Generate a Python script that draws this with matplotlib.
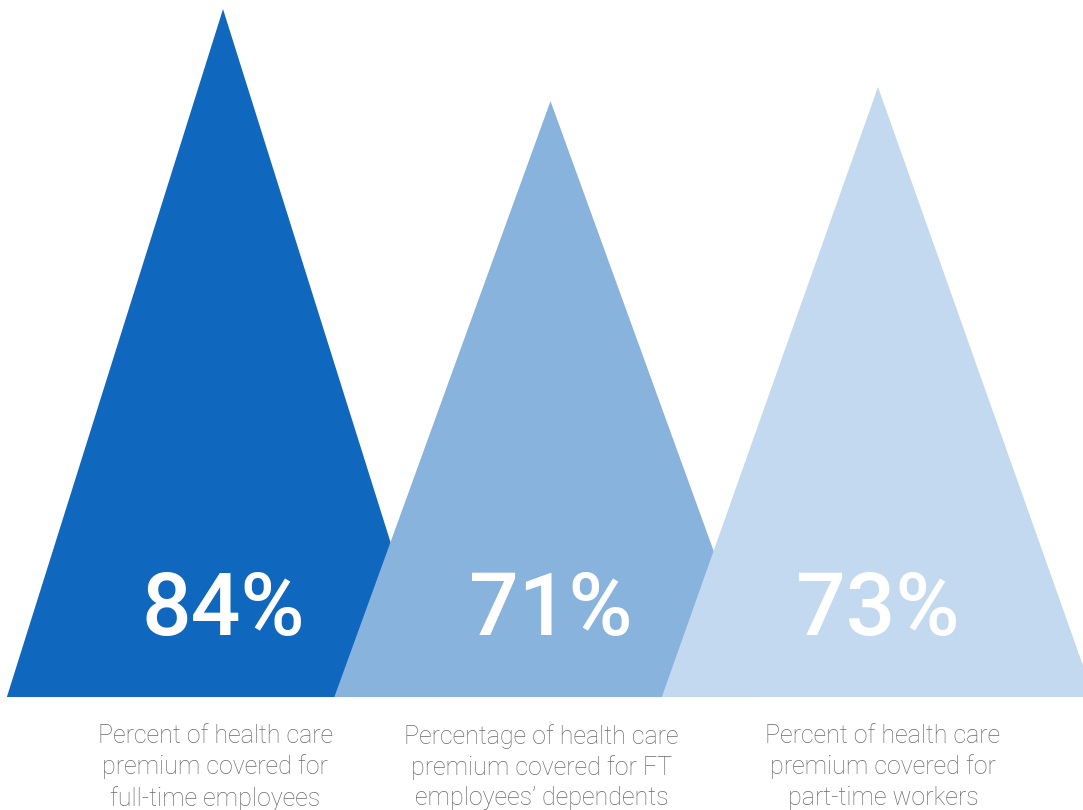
import matplotlib
matplotlib.use("Agg")
import matplotlib.pyplot as plt
from matplotlib.patches import Polygon

# Data
categories = [
    "Percent of health care\npremium covered for\nfull-time employees",
    "Percentage of health care\npremium covered for FT\nemployees\u2019 dependents",
    "Percent of health care\npremium covered for\npart-time workers",
]
values = [84, 71, 73]
value_labels = ["84%", "71%", "73%"]
colors = ["#1067BE", "#88B3DD", "#C3D9EF"]

baseline = -13.2      # visual baseline of the triangles (data units)
half_width = 0.66     # half base width in category units

fig = plt.figure(figsize=(10.83, 8.10), dpi=100)
ax = fig.add_axes([0, 0, 1, 1])
ax.set_xlim(-0.681, 2.626)
ax.set_ylim(-29.17, 85.29)
ax.axis("off")

for i, (v, c) in enumerate(zip(values, colors)):
    tri = Polygon([(i - half_width, baseline), (i, v), (i + half_width, baseline)],
                  closed=True, facecolor=c, edgecolor="none", zorder=i + 1)
    ax.add_patch(tri)

# percentage labels
for i, lab in enumerate(value_labels):
    ax.text(i, -1.1, lab, ha="center", va="center", color="white",
            fontsize=63, family="Roboto", fontweight="medium", zorder=10)

label_x_offsets = [-0.024, -0.027, 0.015]
for i, (cat, dx) in enumerate(zip(categories, label_x_offsets)):
    ax.text(i + dx, -17.0, cat, ha="center", va="top", color="#6a6a6a",
            fontsize=18, family="Roboto", fontweight="light",
            linespacing=1.33, zorder=10)

fig.savefig("out.png", dpi=100)
